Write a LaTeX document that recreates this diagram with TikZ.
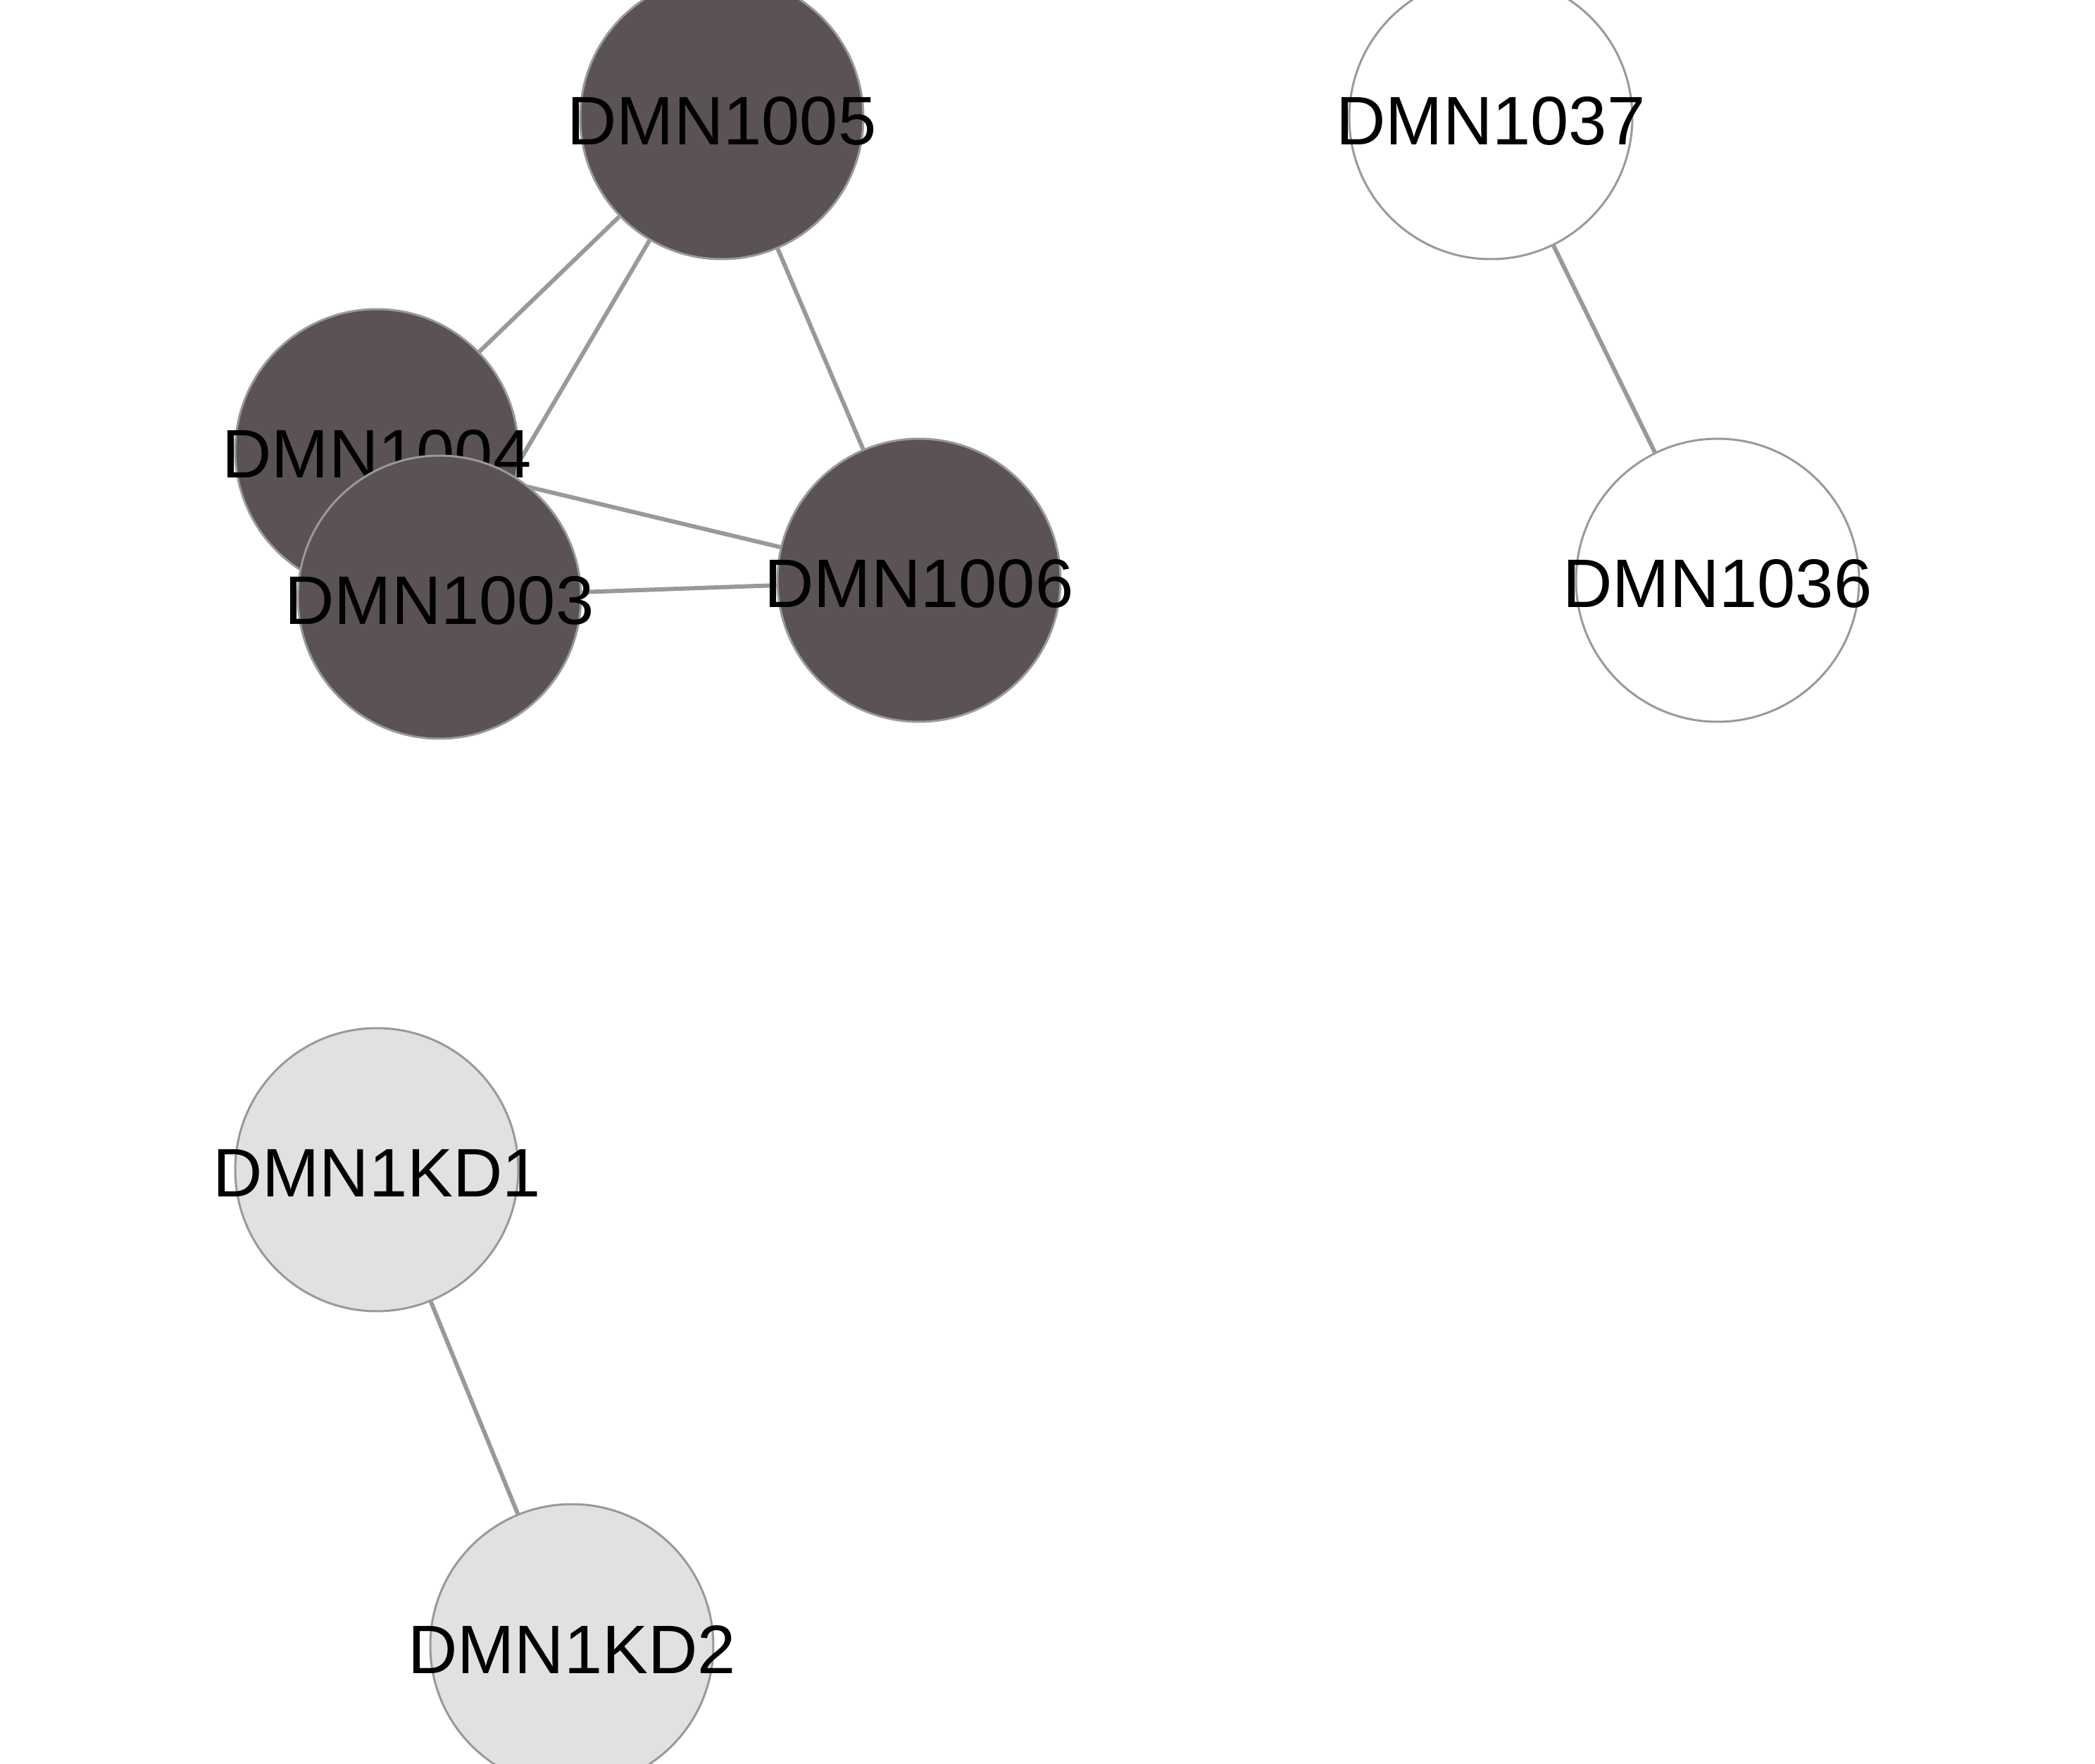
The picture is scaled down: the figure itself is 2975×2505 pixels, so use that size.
\documentclass[tikz,border=0pt]{standalone}
\usepackage{fontspec}
\setmainfont{Liberation Sans}
\usetikzlibrary{backgrounds}
\definecolor{darkfill}{HTML}{5A5256}
\definecolor{lightfill}{HTML}{E2E1E2}
\definecolor{rimgray}{HTML}{999999}
\tikzset{
  netnode/.style={circle, draw=rimgray, line width=0.3pt, minimum size=40.2pt, inner sep=0pt,
    label={[font=\fontsize{9.75}{11}\selectfont, text=black, inner sep=0pt, yshift=-0.5pt]center:#1}},
  darknode/.style={netnode=#1, fill=darkfill},
  lightnode/.style={netnode=#1, fill=lightfill},
  whitenode/.style={netnode=#1, fill=white},
  netedge/.style={draw=rimgray, line width=0.6pt}
}
\begin{document}
\begin{tikzpicture}[x=0.1pt, y=-0.1pt]
\useasboundingbox (0,0) rectangle (2975,2505);
\node[darknode=DMN1005] (n1005) at (1025,167) {};
\node[darknode=DMN1004] (n1004) at (535,640) {};
\node[darknode=DMN1003] (n1003) at (624,848) {};
\node[darknode=DMN1006] (n1006) at (1305,824) {};
\node[whitenode=DMN1037] (n1037) at (2117,167) {};
\node[whitenode=DMN1036] (n1036) at (2439,824) {};
\node[lightnode=DMN1KD1] (kd1) at (535,1661) {};
\node[lightnode=DMN1KD2] (kd2) at (812,2337) {};
\begin{scope}[on background layer]
\draw[netedge] (n1005) -- (n1004);
\draw[netedge] (n1005) -- (n1003);
\draw[netedge] (n1005) -- (n1006);
\draw[netedge] (n1004) -- (n1006);
\draw[netedge] (n1003) -- (n1006);
\draw[netedge] (n1037) -- (n1036);
\draw[netedge] (kd1) -- (kd2);
\end{scope}
\end{tikzpicture}
\end{document}
